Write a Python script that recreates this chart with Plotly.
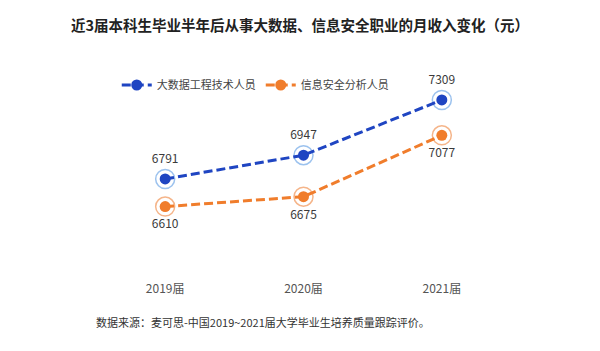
import plotly.graph_objects as go

years = ["2019届", "2020届", "2021届"]
bigdata = [6791, 6947, 7309]
security = [6610, 6675, 7077]
names = ["大数据工程技术人员", "信息安全分析人员"]

FONT = "Noto Sans CJK SC"
fig = go.Figure()

series = [
    (names[0], bigdata, "#1f45c2", "#9cc2ee", "top center"),
    (names[1], security, "#f07d2c", "#f5b58a", "bottom center"),
]
for name, vals, dark, light, tpos in series:
    fig.add_trace(go.Scatter(
        x=years, y=vals, mode="markers+text", text=[str(v) for v in vals],
        textposition=tpos, cliponaxis=False,
        textfont=dict(family=FONT, size=12, color="#3a3a3a"),
        marker=dict(size=19, color="white", line=dict(color=light, width=1.5)),
        showlegend=False, hoverinfo="skip",
    ))
    fig.add_trace(go.Scatter(
        x=years, y=vals, name=name, mode="lines+markers", cliponaxis=False,
        line=dict(color=dark, width=3, dash="9px,4px"),
        marker=dict(size=11, color=dark),
        showlegend=True,
    ))

fig.update_layout(
    width=600, height=351,
    margin=dict(l=96, r=89, t=80, b=81),
    paper_bgcolor="white", plot_bgcolor="white",
    title=dict(text="<b>近3届本科生毕业半年后从事大数据、信息安全职业的月收入变化（元）</b>",
               x=0.5, xanchor="center", y=0.925, yanchor="middle",
               font=dict(family=FONT, size=14.5, color="#222222")),
    legend=dict(orientation="h", x=0.05, y=1.05, xanchor="left", yanchor="top",
                font=dict(family=FONT, size=11, color="#444444"),
                itemwidth=30, tracegroupgap=0),
    xaxis=dict(range=[-0.5, 2.5], showgrid=False, zeroline=False, showline=False,
               ticks="", ticklabelstandoff=10,
               tickfont=dict(family=FONT, size=12, color="#555555")),
    yaxis=dict(range=[6194, 7440], visible=False),
    annotations=[dict(text="数据来源：麦可思-中国2019~2021届大学毕业生培养质量跟踪评价。",
                      xref="paper", yref="paper", x=-0.005, y=-0.275,
                      xanchor="left", yanchor="middle", showarrow=False,
                      font=dict(family=FONT, size=11, color="#333333"))],
)

fig.write_html("out.html")
